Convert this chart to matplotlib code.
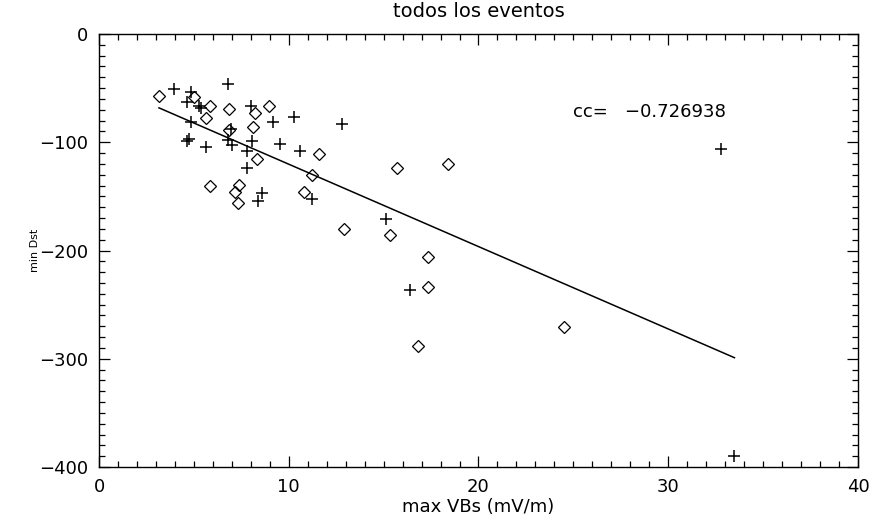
import numpy as np
import matplotlib
matplotlib.use('Agg')
import matplotlib.pyplot as plt
from matplotlib.ticker import MultipleLocator

# events drawn as diamonds
diam_x = [3.16, 5.01, 5.85, 5.62, 6.87, 8.22, 8.98, 6.87, 8.13, 11.60,
          8.31, 11.21, 5.85, 7.40, 7.17, 7.31, 10.82, 15.69, 18.38, 12.92,
          15.34, 17.33, 17.33, 16.80, 24.53]
diam_y = [-57.0, -57.9, -66.5, -77.3, -69.3, -72.7, -66.5, -89.0, -86.2, -111.1,
          -115.7, -130.3, -140.4, -139.5, -145.7, -156.4, -145.7, -124.1, -119.8, -180.1,
          -185.7, -205.7, -233.4, -288.2, -271.0]

# events drawn as plus signs
plus_x = [3.97, 4.85, 4.65, 5.27, 5.38, 6.82, 8.01, 9.15, 10.30, 12.79,
          4.85, 6.94, 4.74, 4.62, 5.62, 6.78, 7.00, 8.08, 9.54, 7.79,
          10.60, 7.82, 8.61, 8.36, 11.21, 15.13, 16.39, 32.79, 33.49]
plus_y = [-50.8, -53.3, -63.1, -66.5, -68.8, -46.2, -66.5, -81.0, -76.4, -83.3,
          -81.0, -87.8, -97.3, -98.6, -104.1, -97.9, -102.5, -98.6, -101.3, -108.1,
          -108.5, -124.1, -146.6, -154.5, -152.1, -171.2, -236.5, -106.0, -389.6]

cc_text = 'cc=   \u22120.726938'

plt.rcParams['font.family'] = ['DejaVu Sans']

fig = plt.figure(figsize=(8.7, 5.2), dpi=100)
ax = fig.add_axes([0.1138, 0.1019, 0.8724, 0.8327])

ax.plot(diam_x, diam_y, linestyle='none', marker='D', markersize=6,
        markerfacecolor='none', markeredgecolor='black', markeredgewidth=0.9)
ax.plot(plus_x, plus_y, linestyle='none', marker='+', markersize=9,
        color='black', markeredgewidth=1.1)

# linear fit over all events
all_x = np.array(diam_x + plus_x)
all_y = np.array(diam_y + plus_y)
slope, icpt = np.polyfit(all_x, all_y, 1)
fx = np.array([all_x.min(), all_x.max()])
ax.plot(fx, slope * fx + icpt, color='black', linewidth=1.1)

ax.text(25, -72, cc_text, fontsize=13, va='center', ha='left')

ax.set_xlim(0, 40)
ax.set_ylim(-400, 0)
ax.xaxis.set_major_locator(MultipleLocator(10))
ax.xaxis.set_minor_locator(MultipleLocator(1))
ax.yaxis.set_major_locator(MultipleLocator(100))
ax.yaxis.set_minor_locator(MultipleLocator(10))
ax.tick_params(which='both', direction='in', top=True, right=True, width=0.9)
ax.tick_params(which='major', length=8, labelsize=13, pad=8)
ax.tick_params(which='minor', length=4)
for s in ax.spines.values():
    s.set_linewidth(1.0)

ax.set_title('todos los eventos', fontsize=14, pad=12)
ax.set_xlabel('max VBs (mV/m)', fontsize=13, labelpad=1)
ax.set_ylabel('min Dst', fontsize=8, labelpad=-1)

fig.savefig('out.png', dpi=100)
